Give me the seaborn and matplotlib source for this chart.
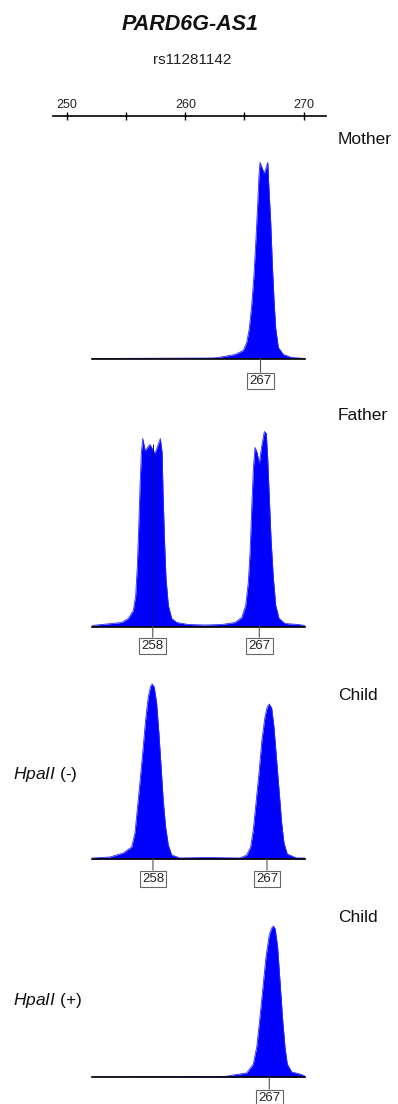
import matplotlib
matplotlib.use("Agg")
import matplotlib.pyplot as plt
import pandas as pd
import seaborn as sns

sns.set_theme(style="white")
plt.rcParams["font.family"] = ["Liberation Sans", "DejaVu Sans"]
plt.rcParams["mathtext.fontset"] = "custom"
plt.rcParams["mathtext.it"] = "Liberation Sans:italic"
plt.rcParams["mathtext.rm"] = "Liberation Sans"

GENE = "PARD6G-AS1"
SNP = "rs11281142"

# size scale shown above the traces (bp)
scale_ticks = [250, 255, 260, 265, 270]
scale_labels = ["250", "", "260", "", "270"]

# electropherogram traces: fragment size (bp) and signal (RFU)
mother_size = [252.84, 263.0, 263.45, 264.86, 265.55, 265.84, 266.06, 266.26, 266.45,
               266.62, 266.76, 266.87, 266.96, 267.32, 267.61, 267.71, 267.86, 267.99,
               268.13, 268.28, 268.50, 268.92, 269.62, 270.74]
mother_rfu = [0, 0.5, 1, 4, 8, 16, 30, 53, 83, 120, 153, 183, 196, 185, 196, 170, 136,
              96, 60, 30, 11, 4, 1, 0]

father_size = [252.87, 253.69, 255.38, 255.94, 256.36, 256.56, 256.70, 256.82, 256.93,
               257.04, 257.16, 257.35, 257.77, 258.19, 258.64, 258.79, 258.87, 258.98,
               259.12, 259.32, 259.60, 260.03, 261.01, 262.40, 263.83, 264.95, 265.52,
               265.85, 266.07, 266.22, 266.36, 266.50, 266.64, 266.81, 267.00, 267.21,
               267.43, 267.59, 267.71, 267.85, 267.99, 268.19, 268.39, 268.67, 269.17,
               270.30, 270.86]
father_rfu = [1, 2, 4, 8, 16, 31, 61, 101, 141, 174, 188, 176, 182, 173, 188, 174, 134,
              91, 48, 21, 8, 4, 2, 1.5, 2, 4, 9, 21, 44, 74, 118, 158, 179, 174, 163,
              181, 195, 193, 168, 128, 88, 48, 21, 8, 3, 2, 1]

child_minus_size = [253.19, 253.29, 254.61, 255.66, 256.32, 256.58, 256.76, 256.97,
                    257.19, 257.42, 257.63, 257.82, 257.94, 258.10, 258.29, 258.47,
                    258.66, 258.81, 259.00, 259.21, 259.48, 260.13, 262.26, 264.87,
                    265.40, 265.71, 265.92, 266.13, 266.37, 266.60, 266.84, 267.02,
                    267.18, 267.37, 267.55, 267.76, 267.97, 268.16, 268.34, 268.60,
                    269.34, 270.0]
child_minus_rfu = [1, 1, 2, 6, 12, 26, 49, 76, 106, 139, 162, 173, 175, 172, 156, 126,
                   89, 59, 32, 14, 4, 1, 1.5, 1, 4, 12, 29, 56, 86, 119, 142, 152, 155,
                   151, 132, 99, 66, 36, 16, 5, 1, 1]

child_plus_size = [253.01, 263.5, 264.16, 265.22, 265.74, 266.01, 266.21, 266.48,
                   266.74, 267.00, 267.19, 267.32, 267.47, 267.66, 267.84, 268.06,
                   268.24, 268.42, 268.77, 269.42, 269.82]
child_plus_rfu = [0, 0.5, 2, 4, 13, 30, 53, 87, 120, 142, 149, 151, 148, 130, 97, 57,
                  30, 13, 5, 3, 1]

# allele calls
mother_alleles = [267]
father_alleles = [258, 267]
child_minus_alleles = [258, 267]
child_plus_alleles = [267]

panels = [
    dict(sample="Mother", treat=None, size=mother_size, rfu=mother_rfu,
         alleles=mother_alleles, base=358.5, xlim=(252.84, 270.74), gap=14.0,
         label_y=140, marker=None),
    dict(sample="Father", treat=None, size=father_size, rfu=father_rfu,
         alleles=father_alleles, base=626.5, xlim=(252.87, 270.86), gap=11.0,
         label_y=415, marker=(258, 183)),
    dict(sample="Child", treat=r"$HpaII$ (-)", size=child_minus_size,
         rfu=child_minus_rfu, alleles=child_minus_alleles, base=859.0,
         xlim=(253.19, 270.0), gap=11.5, label_y=696, treat_y=775, marker=None),
    dict(sample="Child", treat=r"$HpaII$ (+)", size=child_plus_size,
         rfu=child_plus_rfu, alleles=child_plus_alleles, base=1077.0,
         xlim=(253.01, 269.82), gap=12.5, label_y=918, treat_y=1000, marker=None),
]

W, H = 398, 1104
fig = plt.figure(figsize=(W / 100, H / 100), dpi=100)


def rect(left, bottom, width, height):
    return [left / W, 1 - bottom / H, width / W, height / H]


PT = 72 / 100  # points per pixel

# title and SNP id
fig.text(190 / W, 1 - 25 / H, GENE, ha="center", va="center", fontsize=15.5,
         fontweight="bold", fontstyle="italic", color="#111111")
fig.text(192 / W, 1 - 60 / H, SNP, ha="center", va="center", fontsize=11,
         color="#222222")

# size scale
sax = fig.add_axes(rect(53, 116, 273, 0.1))
sax.set_xlim(248.8, 271.9)
sax.set_ylim(0, 1)
for side in ["left", "right", "bottom"]:
    sax.spines[side].set_visible(False)
sax.spines["top"].set_linewidth(1.2)
sax.spines["top"].set_color("black")
sax.xaxis.tick_top()
sax.set_xticks(scale_ticks)
sax.set_xticklabels(scale_labels)
sax.set_yticks([])
sax.tick_params(axis="x", direction="inout", length=8 * PT, width=1.0,
                colors="black", labelsize=9, pad=0.5, labelcolor="#222222")
sax.patch.set_alpha(0)

for p in panels:
    ax = fig.add_axes(rect(92, p["base"], 213, 205))
    df = pd.DataFrame({"size": p["size"], "rfu": p["rfu"]})
    ax.fill_between(df["size"], 0, df["rfu"], color="#0000ff", lw=0, zorder=2)
    sns.lineplot(data=df, x="size", y="rfu", ax=ax, color="#2a2aff", lw=0.6,
                 sort=False, estimator=None, zorder=3)
    if p["marker"] is not None:
        mx, mh = p["marker"]
        ax.vlines(mx, 0, mh, color="#10107a", lw=0.7, zorder=4)
    ax.set_xlim(*p["xlim"])
    ax.set_ylim(0, 205)
    ax.set_xlabel("")
    ax.set_ylabel("")
    ax.set_xticks([])
    ax.set_yticks([])
    for side in ["left", "right", "top"]:
        ax.spines[side].set_visible(False)
    ax.spines["bottom"].set_color("black")
    ax.spines["bottom"].set_linewidth(1.2)
    ax.spines["bottom"].set_zorder(5)
    ax.patch.set_alpha(0)

    for a in p["alleles"]:
        ax.annotate(str(a), xy=(a, 0), xycoords="data",
                    xytext=(0, -(p["gap"] + 2.5) * PT), textcoords="offset points",
                    ha="center", va="top", fontsize=9.5, color="#222222",
                    bbox=dict(boxstyle="square,pad=0.18", fc="white", ec="#666666",
                              lw=0.8),
                    arrowprops=dict(arrowstyle="-", color="#555555", lw=0.8,
                                    shrinkA=0, shrinkB=0),
                    annotation_clip=False, zorder=6)

    fig.text(338 / W, 1 - p["label_y"] / H, p["sample"], ha="left", va="center",
             fontsize=12.5, color="#111111")
    if p["treat"] is not None:
        fig.text(13 / W, 1 - p["treat_y"] / H, p["treat"], ha="left",
                 va="center", fontsize=12.5, color="#111111")

fig.savefig("out.png", dpi=100, facecolor="white")
